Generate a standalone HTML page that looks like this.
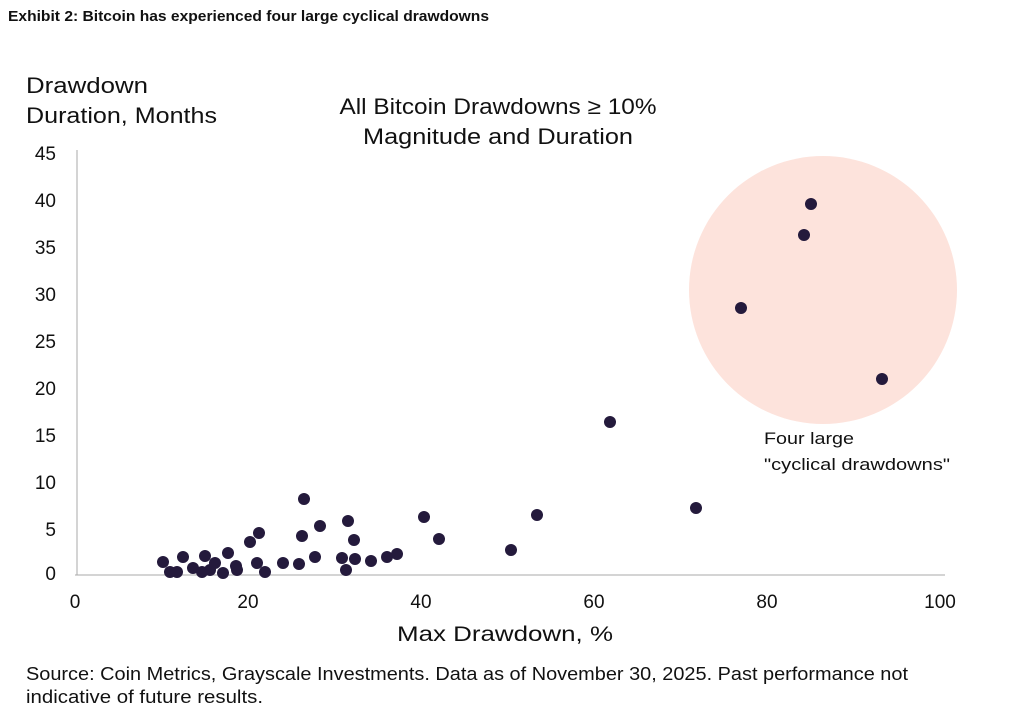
<!DOCTYPE html>
<html><head><meta charset="utf-8"><style>
html,body{margin:0;padding:0;background:#fff;}
svg{display:block;font-family:"Liberation Sans",sans-serif;}
</style></head><body>
<svg width="1024" height="720" viewBox="0 0 1024 720">
<text x="8" y="21" font-size="15" font-weight="bold" fill="#111" textLength="481" lengthAdjust="spacingAndGlyphs">Exhibit 2: Bitcoin has experienced four large cyclical drawdowns</text>
<text x="26" y="93" font-size="22" fill="#111" textLength="122" lengthAdjust="spacingAndGlyphs">Drawdown</text>
<text x="26" y="123" font-size="22" fill="#111" textLength="191" lengthAdjust="spacingAndGlyphs">Duration, Months</text>
<text x="498" y="114" font-size="22" fill="#111" text-anchor="middle" textLength="317" lengthAdjust="spacingAndGlyphs">All Bitcoin Drawdowns ≥ 10%</text>
<text x="498" y="144" font-size="22" fill="#111" text-anchor="middle" textLength="270" lengthAdjust="spacingAndGlyphs">Magnitude and Duration</text>
<circle cx="823" cy="290" r="134" fill="#fde3dc"/>
<line x1="77" y1="150" x2="77" y2="575" stroke="#aaa" stroke-width="1"/>
<line x1="75" y1="575" x2="945" y2="575" stroke="#aaa" stroke-width="1"/>
<g font-size="19" fill="#111" text-anchor="end">
<text x="56" y="580">0</text><text x="56" y="536">5</text><text x="56" y="489">10</text><text x="56" y="442">15</text><text x="56" y="395">20</text><text x="56" y="348">25</text><text x="56" y="301">30</text><text x="56" y="254">35</text><text x="56" y="207">40</text><text x="56" y="160">45</text>
</g>
<g font-size="19" fill="#111" text-anchor="middle">
<text x="75" y="608">0</text><text x="248" y="608">20</text><text x="421" y="608">40</text><text x="594" y="608">60</text><text x="767" y="608">80</text><text x="940" y="608">100</text>
</g>
<text x="505" y="641" font-size="21" fill="#111" text-anchor="middle" textLength="216" lengthAdjust="spacingAndGlyphs">Max Drawdown, %</text>
<text x="764" y="444" font-size="17" fill="#111" textLength="90" lengthAdjust="spacingAndGlyphs">Four large</text>
<text x="764" y="470" font-size="17" fill="#111" textLength="186" lengthAdjust="spacingAndGlyphs">"cyclical drawdowns"</text>
<g fill="#241a3c">
<circle cx="163" cy="562" r="6"/><circle cx="170" cy="572" r="6"/><circle cx="177" cy="572" r="6"/><circle cx="183" cy="557" r="6"/><circle cx="193" cy="568" r="6"/><circle cx="202" cy="572" r="6"/><circle cx="205" cy="556" r="6"/><circle cx="210" cy="570" r="6"/><circle cx="215" cy="563" r="6"/><circle cx="223" cy="573" r="6"/><circle cx="228" cy="553" r="6"/><circle cx="236" cy="566" r="6"/><circle cx="237" cy="570" r="6"/><circle cx="250" cy="542" r="6"/><circle cx="259" cy="533" r="6"/><circle cx="257" cy="563" r="6"/><circle cx="265" cy="572" r="6"/><circle cx="283" cy="563" r="6"/><circle cx="299" cy="564" r="6"/><circle cx="302" cy="536" r="6"/><circle cx="304" cy="499" r="6"/><circle cx="320" cy="526" r="6"/><circle cx="315" cy="557" r="6"/><circle cx="342" cy="558" r="6"/><circle cx="346" cy="570" r="6"/><circle cx="348" cy="521" r="6"/><circle cx="354" cy="540" r="6"/><circle cx="355" cy="559" r="6"/><circle cx="371" cy="561" r="6"/><circle cx="387" cy="557" r="6"/><circle cx="397" cy="554" r="6"/><circle cx="424" cy="517" r="6"/><circle cx="439" cy="539" r="6"/><circle cx="511" cy="550" r="6"/><circle cx="537" cy="515" r="6"/><circle cx="610" cy="422" r="6"/><circle cx="696" cy="508" r="6"/><circle cx="741" cy="308" r="6"/><circle cx="804" cy="235" r="6"/><circle cx="811" cy="204" r="6"/><circle cx="882" cy="379" r="6"/>
</g>
<text x="26" y="680" font-size="18" fill="#111" textLength="882" lengthAdjust="spacingAndGlyphs">Source: Coin Metrics, Grayscale Investments. Data as of November 30, 2025. Past performance not</text>
<text x="26" y="703" font-size="18" fill="#111" textLength="237" lengthAdjust="spacingAndGlyphs">indicative of future results.</text>
</svg>
</body></html>
